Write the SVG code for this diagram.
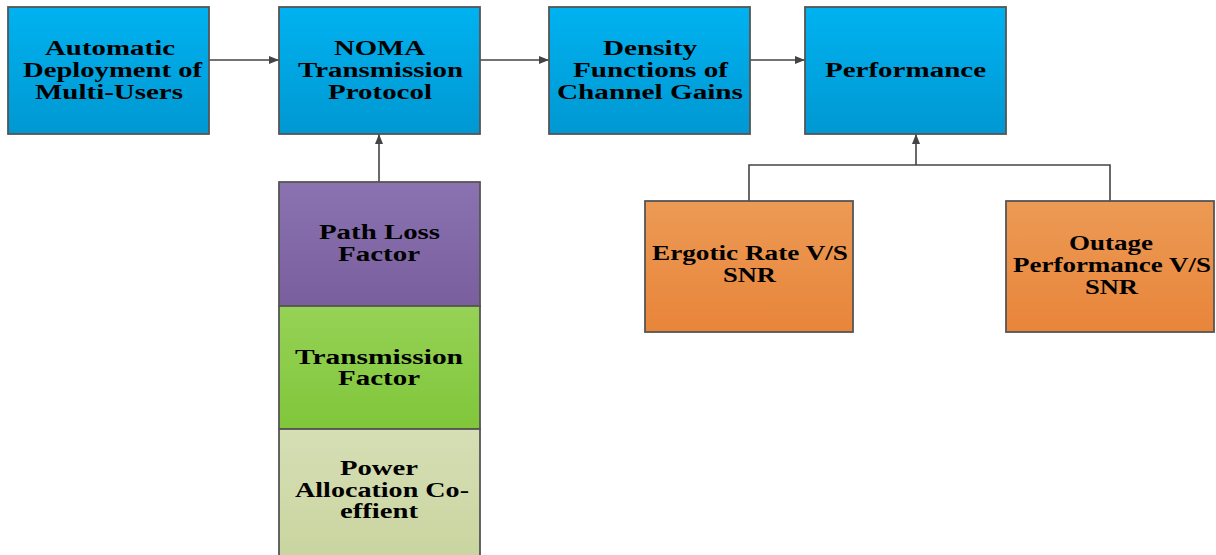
<svg xmlns="http://www.w3.org/2000/svg" width="1216" height="555" viewBox="0 0 1216 555">
<defs>
<linearGradient id="gBlue" x1="0" y1="0" x2="0" y2="1"><stop offset="0" stop-color="#00b2f0"/><stop offset="1" stop-color="#0098d2"/></linearGradient>
<linearGradient id="gPurple" x1="0" y1="0" x2="0" y2="1"><stop offset="0" stop-color="#8a73b0"/><stop offset="1" stop-color="#7a5e9e"/></linearGradient>
<linearGradient id="gGreen" x1="0" y1="0" x2="0" y2="1"><stop offset="0" stop-color="#96d256"/><stop offset="1" stop-color="#80c63a"/></linearGradient>
<linearGradient id="gBeige" x1="0" y1="0" x2="0" y2="1"><stop offset="0" stop-color="#d6deb4"/><stop offset="1" stop-color="#c9d5a0"/></linearGradient>
<linearGradient id="gOrange" x1="0" y1="0" x2="0" y2="1"><stop offset="0" stop-color="#ec9a55"/><stop offset="1" stop-color="#e8853a"/></linearGradient>
<marker id="arr" markerWidth="10" markerHeight="8" refX="10" refY="4" orient="auto" markerUnits="userSpaceOnUse"><path d="M0,0 L10,4 L0,8 Z" fill="#444"/></marker>
</defs>
<style>
.box{stroke:#555;stroke-width:1.8}
.t{font-family:"Liberation Serif","Times New Roman",serif;font-weight:bold;font-size:20px;fill:#000}
.c{fill:none;stroke:#444;stroke-width:1.6}
</style>
<g id="connectors">
<line class="c" x1="209" y1="60" x2="279" y2="60" marker-end="url(#arr)"/>
<line class="c" x1="480" y1="60" x2="549" y2="60" marker-end="url(#arr)"/>
<line class="c" x1="750" y1="60" x2="805" y2="60" marker-end="url(#arr)"/>
<line class="c" x1="379" y1="182" x2="379" y2="134" marker-end="url(#arr)"/>
<polyline class="c" points="749,201 749,165 1110,165 1110,201"/>
<line class="c" x1="916" y1="165" x2="916" y2="134" marker-end="url(#arr)"/>
</g>
<g id="n1">
<rect class="box" x="8" y="7" width="201" height="127" fill="url(#gBlue)"/>
<text class="t" x="45" y="55" textLength="130" lengthAdjust="spacingAndGlyphs">Automatic</text>
<text class="t" x="23" y="77" textLength="179" lengthAdjust="spacingAndGlyphs">Deployment of</text>
<text class="t" x="35" y="99" textLength="148" lengthAdjust="spacingAndGlyphs">Multi-Users</text>
</g>
<g id="n2">
<rect class="box" x="279" y="7" width="201" height="127" fill="url(#gBlue)"/>
<text class="t" x="334" y="55" textLength="91" lengthAdjust="spacingAndGlyphs">NOMA</text>
<text class="t" x="298" y="77" textLength="165" lengthAdjust="spacingAndGlyphs">Transmission</text>
<text class="t" x="328" y="99" textLength="104" lengthAdjust="spacingAndGlyphs">Protocol</text>
</g>
<g id="n3">
<rect class="box" x="549" y="7" width="201" height="127" fill="url(#gBlue)"/>
<text class="t" x="603" y="55" textLength="94" lengthAdjust="spacingAndGlyphs">Density</text>
<text class="t" x="573" y="77" textLength="155" lengthAdjust="spacingAndGlyphs">Functions of</text>
<text class="t" x="557" y="99" textLength="186" lengthAdjust="spacingAndGlyphs">Channel Gains</text>
</g>
<g id="n4">
<rect class="box" x="805" y="7" width="201" height="127" fill="url(#gBlue)"/>
<text class="t" x="825" y="77" textLength="161" lengthAdjust="spacingAndGlyphs">Performance</text>
</g>
<g id="n5">
<rect class="box" x="279" y="182" width="201" height="124" fill="url(#gPurple)"/>
<text class="t" x="319" y="239" textLength="121" lengthAdjust="spacingAndGlyphs">Path Loss</text>
<text class="t" x="338" y="261" textLength="82" lengthAdjust="spacingAndGlyphs">Factor</text>
</g>
<g id="n6">
<rect class="box" x="279" y="306" width="201" height="123" fill="url(#gGreen)"/>
<text class="t" x="295" y="364" textLength="168" lengthAdjust="spacingAndGlyphs">Transmission</text>
<text class="t" x="338" y="385" textLength="82" lengthAdjust="spacingAndGlyphs">Factor</text>
</g>
<g id="n7">
<rect class="box" x="279" y="429" width="201" height="130" fill="url(#gBeige)"/>
<text class="t" x="340" y="475" textLength="78" lengthAdjust="spacingAndGlyphs">Power</text>
<text class="t" x="295" y="497" textLength="174" lengthAdjust="spacingAndGlyphs">Allocation Co-</text>
<text class="t" x="340" y="518" textLength="78" lengthAdjust="spacingAndGlyphs">effient</text>
</g>
<g id="n8">
<rect class="box" x="645" y="201" width="208" height="131" fill="url(#gOrange)"/>
<text class="t" x="652" y="260" textLength="196" lengthAdjust="spacingAndGlyphs">Ergotic Rate V/S</text>
<text class="t" x="723" y="282" textLength="53" lengthAdjust="spacingAndGlyphs">SNR</text>
</g>
<g id="n9">
<rect class="box" x="1006" y="201" width="208" height="131" fill="url(#gOrange)"/>
<text class="t" x="1069" y="250" textLength="84" lengthAdjust="spacingAndGlyphs">Outage</text>
<text class="t" x="1013" y="272" textLength="198" lengthAdjust="spacingAndGlyphs">Performance V/S</text>
<text class="t" x="1085" y="294" textLength="53" lengthAdjust="spacingAndGlyphs">SNR</text>
</g>
</svg>
